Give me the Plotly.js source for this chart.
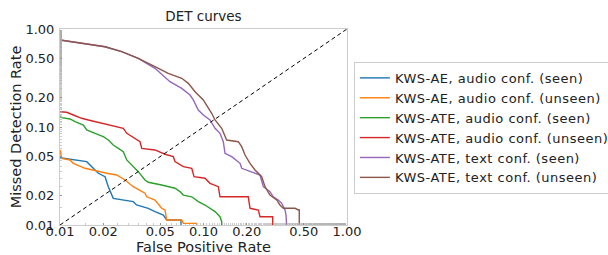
<!DOCTYPE html>
<html>
<head>
<meta charset="utf-8">
<script src="https://cdn.plot.ly/plotly-3.0.1.min.js"></script>
<style>html,body{margin:0;padding:0;background:#fff;}#chart{width:608px;height:255px;}
.legendtext{letter-spacing:0.5px;}</style>
</head>
<body>
<div id="chart"></div>
<script>
const seriesNames = [
  "KWS-AE, audio conf. (seen)",
  "KWS-AE, audio conf. (unseen)",
  "KWS-ATE, audio conf. (seen)",
  "KWS-ATE, audio conf. (unseen)",
  "KWS-ATE, text conf. (seen)",
  "KWS-ATE, text conf. (unseen)"
];
const colors = ["#1f77b4", "#ff7f0e", "#2ca02c", "#d62728", "#9467bd", "#8c564b"];

const aeSeenFpr = [0.0100, 0.01535, 0.01706, 0.0185, 0.0206, 0.0217, 0.0235, 0.0269, 0.0324, 0.0342, 0.0412, 0.0459, 0.0525, 0.0554, 0.0697, 0.0697];
const aeSeenFnr = [0.0486, 0.0443, 0.0379, 0.0337, 0.0311, 0.0246, 0.0187, 0.0180, 0.0173, 0.0160, 0.0148, 0.0137, 0.01265, 0.01125, 0.01125, 0.0095];

const aeUnseenFpr = [0.0100, 0.01028, 0.01174, 0.01238, 0.01494, 0.0185, 0.02116, 0.0248, 0.0284, 0.0324, 0.0391, 0.0402, 0.0459, 0.0511, 0.0539, 0.0554, 0.0705, 0.0723, 0.0897, 0.0897];
const aeUnseenFnr = [0.0583, 0.0479, 0.0461, 0.0426, 0.0379, 0.0350, 0.0337, 0.0324, 0.0288, 0.0246, 0.0211, 0.0194, 0.0180, 0.0148, 0.01423, 0.01125, 0.01125, 0.0104, 0.0104, 0.0095];

const ateAudioSeenFpr = [0.0100, 0.01028, 0.01174, 0.01272, 0.01454, 0.01535, 0.01754, 0.02003, 0.0217, 0.0235, 0.0255, 0.0276, 0.0292, 0.0324, 0.0351, 0.0391, 0.0412, 0.0511, 0.0584, 0.0633, 0.0686, 0.0723, 0.0828, 0.0920, 0.1024, 0.1110, 0.1203, 0.1303, 0.1339, 0.1339];
const ateAudioSeenFnr = [0.1274, 0.1245, 0.1207, 0.1133, 0.1048, 0.0932, 0.0862, 0.0796, 0.0737, 0.0655, 0.0606, 0.0560, 0.0461, 0.0394, 0.0350, 0.0288, 0.0273, 0.0256, 0.0246, 0.0237, 0.0219, 0.0202, 0.0194, 0.0173, 0.0160, 0.0148, 0.0137, 0.01215, 0.0108, 0.0095];

const ateAudioUnseenFpr = [0.0100, 0.01113, 0.01238, 0.01416, 0.01575, 0.01754, 0.02003, 0.0217, 0.0248, 0.0276, 0.0292, 0.0333, 0.0361, 0.0371, 0.0459, 0.0539, 0.0616, 0.0633, 0.0723, 0.0828, 0.0859, 0.1024, 0.1110, 0.1268, 0.1303, 0.2050, 0.2110, 0.2410, 0.2476, 0.3035, 0.3035];
const ateAudioUnseenFnr = [0.1433, 0.1413, 0.1326, 0.1227, 0.1179, 0.1133, 0.1091, 0.1048, 0.1007, 0.0970, 0.0862, 0.0767, 0.0708, 0.0606, 0.0583, 0.0527, 0.0498, 0.0443, 0.0394, 0.0379, 0.0311, 0.0300, 0.0266, 0.0246, 0.0194, 0.0194, 0.0148, 0.01423, 0.01215, 0.01215, 0.0095];

const ateTextSeenFpr = [0.0100, 0.01575, 0.0206, 0.0269, 0.0351, 0.0459, 0.0539, 0.0584, 0.0705, 0.0805, 0.0849, 0.0920, 0.0997, 0.1110, 0.1203, 0.1303, 0.1374, 0.1412, 0.1572, 0.1797, 0.1846, 0.2110, 0.2476, 0.2611, 0.2907, 0.3064, 0.3320, 0.3510, 0.3700, 0.3760, 0.3800];
const ateTextSeenFnr = [0.773, 0.703, 0.659, 0.587, 0.502, 0.397, 0.326, 0.290, 0.248, 0.212, 0.1887, 0.149, 0.1326, 0.1179, 0.0970, 0.0862, 0.0708, 0.0539, 0.0498, 0.0426, 0.0379, 0.0350, 0.0324, 0.0246, 0.0219, 0.0194, 0.0180, 0.01665, 0.01423, 0.01265, 0.0095];

const ateTextUnseenFpr = [0.0100, 0.01575, 0.0206, 0.0269, 0.0351, 0.0459, 0.0568, 0.0705, 0.0784, 0.0873, 0.0997, 0.1140, 0.1203, 0.1339, 0.1450, 0.1748, 0.1846, 0.1947, 0.2110, 0.2285, 0.2544, 0.2683, 0.2907, 0.3236, 0.3410, 0.3600, 0.4340, 0.4580, 0.4650, 0.4650];
const ateTextUnseenFnr = [0.773, 0.703, 0.659, 0.587, 0.502, 0.413, 0.353, 0.314, 0.279, 0.229, 0.1887, 0.138, 0.1179, 0.0970, 0.0737, 0.0708, 0.0630, 0.0518, 0.0426, 0.0364, 0.0311, 0.0246, 0.0202, 0.0180, 0.0160, 0.0148, 0.0148, 0.01423, 0.01423, 0.0095];

const chanceLine = [0.01, 1.0];

const tickVals = [0.01, 0.02, 0.05, 0.10, 0.20, 0.50, 1.00];
const tickText = ["0.01", "0.02", "0.05", "0.10", "0.20", "0.50", "1.00"];

const xs = [aeSeenFpr, aeUnseenFpr, ateAudioSeenFpr, ateAudioUnseenFpr, ateTextSeenFpr, ateTextUnseenFpr];
const ys = [aeSeenFnr, aeUnseenFnr, ateAudioSeenFnr, ateAudioUnseenFnr, ateTextSeenFnr, ateTextUnseenFnr];

const traces = seriesNames.map((n, i) => ({
  x: xs[i], y: ys[i], name: n, type: 'scatter', mode: 'lines',
  line: {color: colors[i], width: 1.4, shape: 'linear'},
  cliponaxis: true
}));
traces.push({
  x: chanceLine, y: chanceLine, type: 'scatter', mode: 'lines', showlegend: false,
  line: {color: 'black', width: 1, dash: '4px,3px'}
});

const font = "DejaVu Sans, sans-serif";
const axisCommon = {
  type: 'log', range: [-2, 0], tickvals: tickVals, ticktext: tickText,
  showgrid: false, zeroline: false, showline: true, mirror: true,
  linecolor: '#cccccc', linewidth: 1,
  ticks: 'inside', ticklen: 2, tickcolor: '#888', tickwidth: 0.8,
  tickfont: {family: font, size: 13, color: '#222'},
  minor: {ticks: 'inside', ticklen: 2, tickcolor: '#aaa', tickwidth: 0.6},
  automargin: false,
  fixedrange: true
};

const layout = {
  width: 608, height: 255,
  margin: {l: 60, r: 261, t: 29, b: 30, autoexpand: false},
  paper_bgcolor: 'white', plot_bgcolor: 'white',
  font: {family: font, color: '#222'},
  title: {text: 'DET curves', font: {family: font, size: 13.5, color: '#222'}, x: 0.5, xref: 'paper', xanchor: 'center', y: 1, yref: 'paper', yanchor: 'bottom', pad: {b: 8}},
  xaxis: Object.assign({}, axisCommon, {ticklabelstandoff: -6, title: {text: 'False Positive Rate', font: {family: font, size: 14.5, color: '#222'}, standoff: 3}}),
  yaxis: Object.assign({}, axisCommon, {ticklabelstandoff: 2, title: {text: 'Missed Detection Rate', font: {family: font, size: 14.5, color: '#222'}, standoff: 0}}),
  legend: {
    x: 1.024, xanchor: 'left', y: 0.832, yanchor: 'top',
    bgcolor: 'white', bordercolor: '#cccccc', borderwidth: 1,
    font: {family: font, size: 13, color: '#222'},
    tracegroupgap: 0, itemwidth: 30
  },
  showlegend: true
};

Plotly.newPlot('chart', traces, layout, {staticPlot: true, displayModeBar: false});
</script>
</body>
</html>
